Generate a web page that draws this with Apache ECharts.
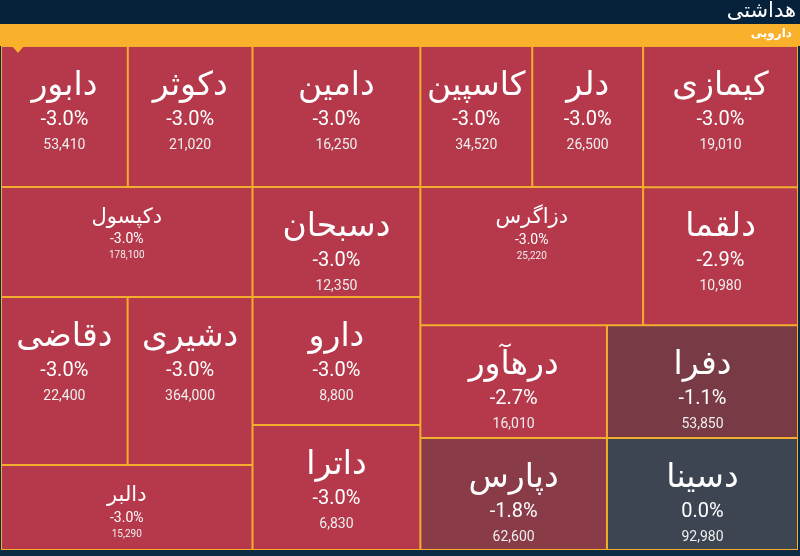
<!DOCTYPE html>
<html><head><meta charset="utf-8">
<script src="https://cdn.jsdelivr.net/npm/echarts@6/dist/echarts.min.js"></script>
<style>html,body{margin:0;padding:0;background:#0b2a44}#c{width:800px;height:556px}</style>
</head><body><div id="c"></div>
<script>
// symbol names, price change (%), last price, cell weight (area)
const names   = ['دابور','دکوثر','دکپسول','دقاضی','دشیری','دالبر','دامین','دسبحان','دارو','داترا','کاسپین','دلر','دزاگرس','کیمازی','دلقما','درهآور','دپارس','دفرا','دسینا'];
const changes = [-3.0,-3.0,-3.0,-3.0,-3.0,-3.0,-3.0,-3.0,-3.0,-3.0,-3.0,-3.0,-3.0,-3.0,-2.9,-2.7,-1.8,-1.1,0.0];
const prices  = [53410,21020,178100,22400,364000,15290,16250,12350,8800,6830,34520,26500,25220,19010,10980,16010,62600,53850,92980];
const weights = [17900,17600,27700,21300,21000,21400,23700,18500,21500,21000,15800,15650,30800,21900,21400,21100,20900,21600,21400];
// grouping of symbols (indices) as shown in the map
const groups = [[[0,1],2,[3,4],5],[6,7,8,9],[[[[10,11],12],[13,14]],[[15,16],[17,18]]]];
const small = {2:1,5:1,12:1};

function color(c){
  if (c===0) return '#3d4452';
  if (c>-1.5) return '#783a45';
  if (c>-2.2) return '#893b48';
  return '#b5394b';
}
function leaf(i){
  const s = small[i];
  return {
    name: names[i], value: weights[i],
    itemStyle:{color: color(changes[i]), borderColor:'#f2ae2c', borderWidth:1},
    label:{
      show:true, overflow:'none', position:['50%','50%'], offset:[0, s?12:14], align:'center', verticalAlign:'middle',
      formatter: '{n|'+names[i]+'}\n{p|'+changes[i].toFixed(1)+'%}\n{v|'+prices[i].toLocaleString('en-US')+'}',
      rich:{
        n:{fontSize:s?21:33,color:'#fff',fontFamily:'DejaVu Sans',lineHeight:s?26:40,align:'center'},
        p:{fontSize:s?14:20,color:'#fff',fontFamily:'Roboto',lineHeight:s?18:28,align:'center'},
        v:{fontSize:s?10:14,color:'#eee',fontFamily:'Roboto',lineHeight:s?14:22,align:'center'}
      }
    }
  };
}
function build(g){
  if (typeof g==='number') return leaf(g);
  const ch = g.map(build);
  return {name:'', value: ch.reduce((a,b)=>a+b.value,0), children: ch,
          itemStyle:{borderWidth:0,gapWidth:0}};
}
const data = groups.map(build);

const chart = echarts.init(document.getElementById('c'));
chart.setOption({
  backgroundColor:'#0b2a44',
  graphic:[
    {type:'rect',shape:{x:0,y:0,width:800,height:24},style:{fill:'#06213a'}},
    {type:'text',right:4,top:1,style:{text:'هداشتی',fill:'#fff',font:'21px DejaVu Sans'}},
    {type:'rect',shape:{x:0,y:24,width:800,height:22},style:{fill:'#f9b12c'}},
    {type:'text',right:8,top:28,style:{text:'دارویی',fill:'#fff',font:'bold 12px DejaVu Sans'}},
    {type:'polygon',shape:{points:[[12,46],[24,46],[18,53]]},style:{fill:'#f9b12c'},z:100}
  ],
  series:[{
    type:'treemap', sort:false, roam:false, nodeClick:false,
    left:1, right:2, top:46, bottom:6,
    breadcrumb:{show:false},
    squareRatio:1,
    label:{show:true},
    upperLabel:{show:false},
    itemStyle:{borderWidth:0,gapWidth:0,borderColor:'#f2ae2c'},
    levels:[{itemStyle:{borderWidth:0,gapWidth:0}}],
    data: data
  }]
});
</script></body></html>
